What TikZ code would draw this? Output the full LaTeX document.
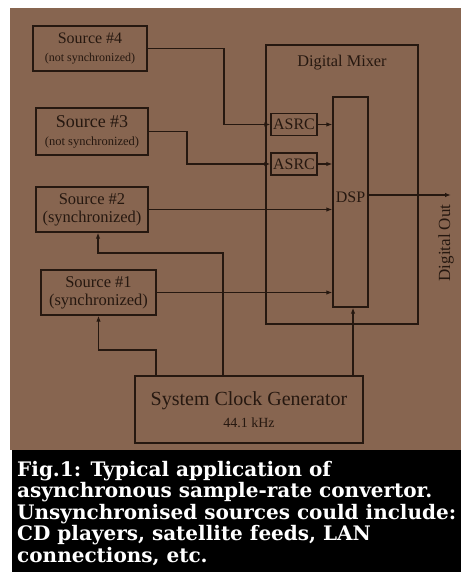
\documentclass[tikz,border=0pt]{standalone}
\usepackage{fontspec}
\setmainfont{Liberation Serif}
\newfontfamily\capfont{DejaVu Serif}
\usetikzlibrary{arrows.meta}
\definecolor{bg}{RGB}{135,101,80}
\definecolor{ink}{RGB}{38,24,16}
\begin{document}
\begin{tikzpicture}[x=1pt,y=-1pt,
  box/.style={draw=ink, line width=1.3pt, inner sep=0pt, align=center, text=ink},
  lbl/.style={text=ink, inner sep=0pt},
  wire/.style={draw=ink, line width=1.2pt},
  arr/.style={wire, -{Latex[length=6pt,width=4.5pt]}},
  captxt/.style={text=white, inner sep=0pt, anchor=base west, font=\capfont\fontsize{20}{22}\selectfont\bfseries}]
\useasboundingbox (0,0) rectangle (461,572);
\fill[white] (0,0) rectangle (461,572);
\fill[bg] (10,8) rectangle (461,450);
\fill[black] (12,450) rectangle (461,572);

% sources
\node[box, minimum width=114pt, minimum height=45pt, font=\fontsize{16}{18}\selectfont] (s4) at (90,48.5)
  {Source \#4\\{\fontsize{12}{13}\selectfont (not synchronized)}};
\node[box, minimum width=112pt, minimum height=47pt, font=\fontsize{18}{18}\selectfont] (s3) at (92,131.5)
  {Source \#3\\{\fontsize{12.5}{13}\selectfont (not synchronized)}};
\node[box, minimum width=112pt, minimum height=45pt, font=\fontsize{16.5}{18}\selectfont] (s2) at (92,209.5)
  {Source \#2\\(synchronized)};
\node[box, minimum width=115pt, minimum height=45pt, font=\fontsize{16.5}{18}\selectfont] (s1) at (98.5,292.5)
  {Source \#1\\(synchronized)};

% mixer
\node[box, minimum width=152pt, minimum height=279pt] (mix) at (342,184.5) {};
\node[lbl, font=\fontsize{16.3}{17}\selectfont] (mixl) at (342,63) {Digital Mixer};
\node[box, minimum width=46pt, minimum height=22pt, font=\fontsize{16}{17}\selectfont] (a1) at (294,124.5) {ASRC};
\node[box, minimum width=46pt, minimum height=22pt, font=\fontsize{16}{17}\selectfont] (a2) at (294,164) {ASRC};
\node[box, minimum width=35pt, minimum height=210pt, font=\fontsize{16}{17}\selectfont] (dsp) at (350.5,202) {\raisebox{10pt}{DSP}};

% clock
\node[box, minimum width=228pt, minimum height=67pt, font=\fontsize{20}{22}\selectfont] (clk) at (249,409.5)
  {System Clock Generator\\{\fontsize{14}{15}\selectfont 44.1 kHz}};

% output
\coordinate (outend) at (451,195);
\node[lbl, rotate=90, font=\fontsize{17}{18}\selectfont] (outl) at (446,243) {Digital Out};

% helper coordinates
\coordinate (k4) at (224,0);
\coordinate (k3) at (187,0);
\coordinate (k8) at (353,0);
\coordinate (j2) at (223,253);
\coordinate (j1) at (156,350);

% connectors
\draw[arr] (s4.east) -| (k4 |- a1.west) -- (a1.west);
\draw[arr] (s3.east) -| (k3 |- a2.west) -- (a2.west);
\draw[arr] (a1.east) -- (a1.east -| dsp.west);
\draw[arr] (a2.east) -- (a2.east -| dsp.west);
\draw[arr] (s2.east) -- (s2.east -| dsp.west);
\draw[arr] (s1.east) -- (s1.east -| dsp.west);
\draw[arr] (dsp.east |- outend) -- (outend);
\draw[arr] (k8 |- clk.north) -- (k8 |- dsp.south);
\draw[arr] (j2 |- clk.north) -- (j2) -| ([xshift=6pt]s2.south);
\draw[arr] (j1 |- clk.north) -- (j1) -| (s1.south);

% caption
\node[captxt] (c1) at (17,476) {Fig.1: Typical application of};
\node[captxt] (c2) at (17,497) {asynchronous sample-rate convertor.};
\node[captxt] (c3) at (17,519) {Unsynchronised sources could include:};
\node[captxt] (c4) at (17,540) {CD players, satellite feeds, LAN};
\node[captxt] (c5) at (17,562) {connections, etc.};
\end{tikzpicture}
\end{document}
